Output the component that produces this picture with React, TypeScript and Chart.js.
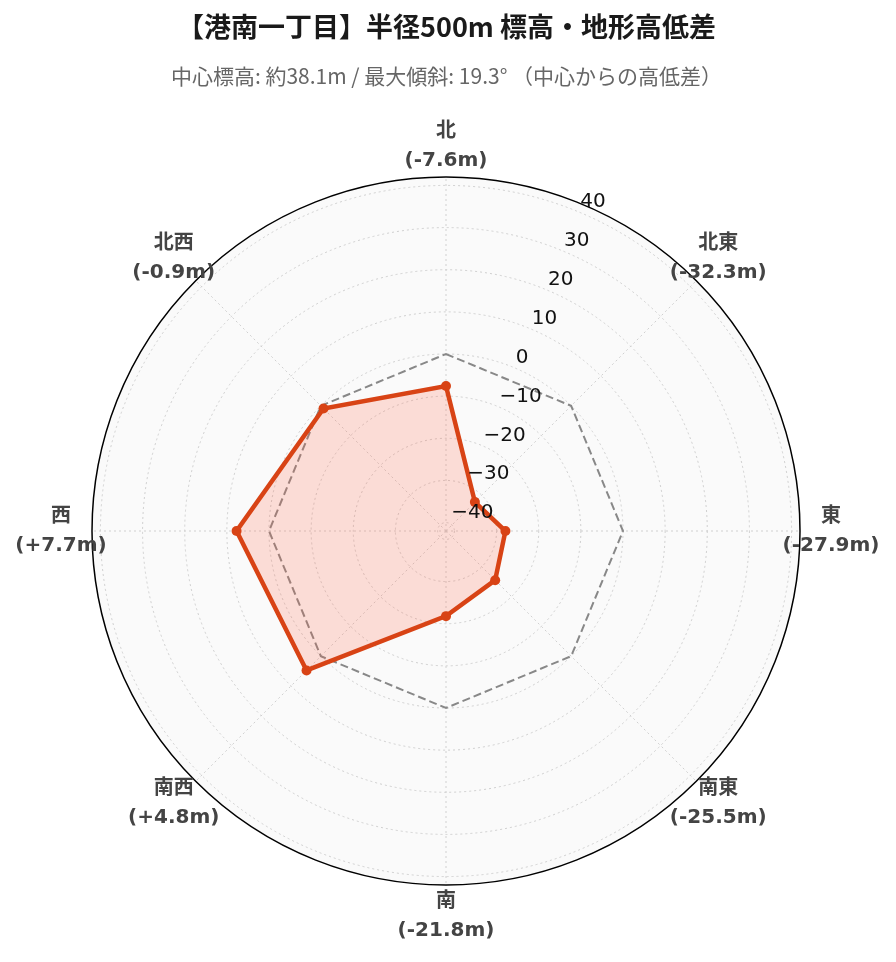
import React, { useEffect, useRef } from "react";
import { Chart, registerables } from "chart.js";

Chart.register(...registerables);

const TITLE = "【港南一丁目】半径500m 標高・地形高低差";
const SUBTITLE = "中心標高: 約38.1m / 最大傾斜: 19.3° （中心からの高低差）";
const DIRECTIONS = ["北", "北東", "東", "南東", "南", "南西", "西", "北西"];
const ELEV_DIFF = [-7.6, -32.3, -27.9, -25.5, -21.8, 4.8, 7.7, -0.9];
const BASELINE = [0, 0, 0, 0, 0, 0, 0, 0];
const RADIAL_TICKS = [-40, -30, -20, -10, 0, 10, 20, 30, 40];
const R_MIN = -42;
const R_MAX = 42;

const LINE_COLOR = "#d84315";
const FILL_COLOR = "rgba(255,99,71,0.2)";

function fmtDiff(v: number) {
  return `(${v > 0 ? "+" : ""}${v.toFixed(1)}m)`;
}

const overlayPlugin = {
  id: "overlayPlugin",
  beforeDatasetsDraw(chart: any) {
    const s = chart.scales.r;
    const ctx = chart.ctx;
    ctx.save();
    ctx.beginPath();
    ctx.arc(s.xCenter, s.yCenter, s.getDistanceFromCenterForValue(s.max), 0, Math.PI * 2);
    ctx.strokeStyle = "#000";
    ctx.lineWidth = 1.5;
    ctx.setLineDash([]);
    ctx.stroke();
    ctx.restore();
  },
  afterDatasetsDraw(chart: any) {
    const s = chart.scales.r;
    const ctx = chart.ctx;
    const ang = Math.PI / 8;
    ctx.save();
    ctx.font = '20px "DejaVu Sans"';
    ctx.fillStyle = "#111";
    ctx.textAlign = "left";
    ctx.textBaseline = "middle";
    RADIAL_TICKS.forEach((v) => {
      const r = s.getDistanceFromCenterForValue(v);
      const x = s.xCenter + r * Math.sin(ang);
      const y = s.yCenter - r * Math.cos(ang);
      const txt = v < 0 ? "\u2212" + Math.abs(v) : String(v);
      ctx.fillText(txt, x + 2, y - 10);
    });
    ctx.restore();
  },
  afterDraw(chart: any) {
    const s = chart.scales.r;
    const ctx = chart.ctx;
    ctx.save();
    ctx.font = 'bold 20px "DejaVu Sans", "Noto Sans CJK JP"';
    ctx.fillStyle = "#444";
    ctx.textAlign = "center";
    ctx.textBaseline = "middle";
    const dist = s.drawingArea + 31;
    DIRECTIONS.forEach((d, i) => {
      const p = s.getPointPosition(i, dist);
      ctx.fillText(d, p.x, p.y - 14.5);
      ctx.fillText(fmtDiff(ELEV_DIFF[i]), p.x, p.y + 14.5);
    });
    ctx.restore();
  },
};

export default function App() {
  const ref = useRef<HTMLCanvasElement>(null);
  useEffect(() => {
    if (!ref.current) return;
    const chart = new Chart(ref.current, {
      type: "radar",
      data: {
        labels: DIRECTIONS,
        datasets: [
          {
            label: "高低差",
            data: ELEV_DIFF,
            borderColor: LINE_COLOR,
            backgroundColor: FILL_COLOR,
            borderWidth: 4.5,
            fill: "start",
            pointRadius: 5,
            pointBackgroundColor: LINE_COLOR,
            pointBorderColor: LINE_COLOR,
            pointBorderWidth: 0,
          },
          {
            label: "基準",
            data: BASELINE,
            borderColor: "#888",
            borderWidth: 2,
            borderDash: [8, 4],
            fill: false,
            pointRadius: 0,
          },
        ],
      },
      options: {
        responsive: false,
        animation: false,
        layout: { padding: { left: 84, right: 87, top: 0, bottom: 68 } },
        plugins: {
          legend: { display: false },
          tooltip: { enabled: false },
          title: {
            display: true,
            text: TITLE,
            color: "#1a1a1a",
            font: { size: 27, weight: "bold", family: '"Noto Sans CJK JP"', lineHeight: 1.2 },
            padding: { top: 3, bottom: 6 },
          },
          subtitle: {
            display: true,
            text: SUBTITLE,
            color: "#666",
            font: { size: 21, family: '"Noto Sans CJK JP"', lineHeight: 1.2 },
            padding: { top: 14, bottom: 88.4 },
          },
        },
        scales: {
          r: {
            min: R_MIN,
            max: R_MAX,
            backgroundColor: "#fafafa",
            afterBuildTicks: (scale: any) => {
              scale.ticks = RADIAL_TICKS.map((v) => ({ value: v }));
            },
            ticks: { display: false },
            pointLabels: { display: false },
            grid: { circular: true, color: "#d0d0d0", lineWidth: 1 },
            border: { dash: [2, 3] },
            angleLines: { display: true, color: "#d0d0d0", lineWidth: 1, borderDash: [2, 3] },
          },
        },
      },
      plugins: [overlayPlugin],
    });
    return () => chart.destroy();
  }, []);
  return (
    <div style={{ width: 880, height: 946 }}>
      <canvas ref={ref} width={880} height={946} style={{ display: "block" }} />
    </div>
  );
}
